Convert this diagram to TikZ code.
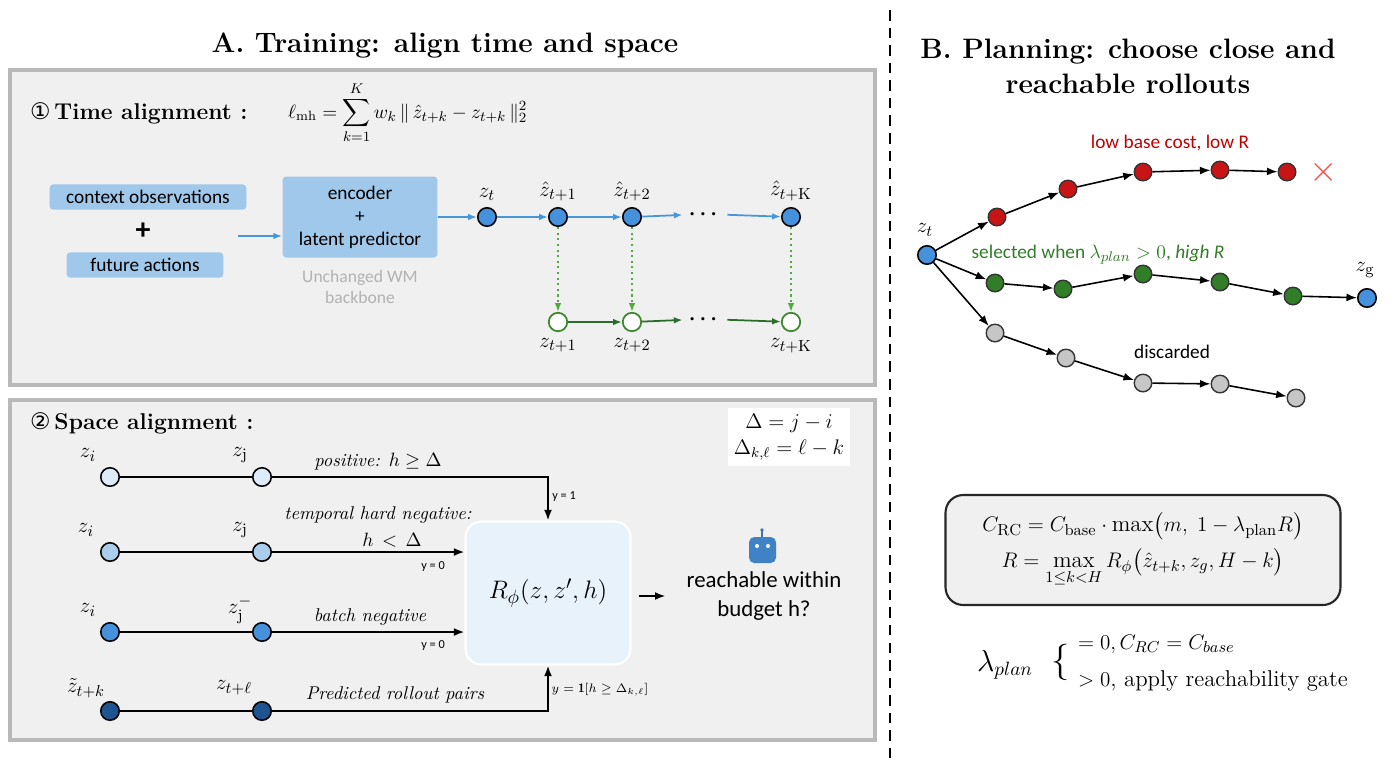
\documentclass[tikz,border=0pt]{standalone}
\usepackage{fontspec}
\usepackage{amsmath,amssymb}
\setsansfont{Carlito}
\newfontfamily\symfnt{DejaVu Sans}
\usetikzlibrary{positioning,arrows.meta}
\definecolor{boxblue}{RGB}{160,200,235}
\definecolor{lineblue}{RGB}{70,150,220}
\definecolor{dkgreen}{RGB}{40,110,40}
\definecolor{ltgreen}{RGB}{80,170,60}
\definecolor{pnlgray}{RGB}{240,240,240}
\definecolor{nodeA}{RGB}{222,236,250}
\definecolor{nodeB}{RGB}{170,205,235}
\definecolor{nodeC}{RGB}{70,145,220}
\definecolor{nodeD}{RGB}{30,85,145}
\definecolor{redn}{RGB}{200,20,20}
\definecolor{greenn}{RGB}{50,125,40}
\tikzset{
  panel/.style={draw=gray!55,line width=2.2pt,fill=pnlgray},
  bbox/.style={fill=boxblue,rounded corners=2pt,font=\sffamily\fontsize{11}{13}\selectfont,align=center},
  dot/.style={circle,draw=black,line width=0.9pt,minimum size=10.5pt,inner sep=0pt},
  gdot/.style={circle,draw=ltgreen!80!black,line width=1pt,fill=white,minimum size=10.5pt,inner sep=0pt},
  pdot/.style={circle,draw=black!80,line width=0.8pt,minimum size=10pt,inner sep=0pt},
  barr/.style={-{Latex[length=5pt]},lineblue,line width=1pt},
  garr/.style={-{Latex[length=5pt]},dkgreen,line width=1pt},
  karr/.style={-{Latex[length=6pt]},line width=1.1pt},
  lbl/.style={font=\fontsize{13}{15}\selectfont},
  ital/.style={font=\itshape\fontsize{10.5}{12}\selectfont},
  small/.style={font=\sffamily\fontsize{7}{8}\selectfont},
  bdots/.style={font=\bfseries\fontsize{12}{12}\selectfont},
}
\begin{document}
\begin{tikzpicture}[x=0.02cm,y=-0.02cm]
\useasboundingbox (0,0) rectangle (1400,772);
% titles
\node[font=\bfseries\fontsize{16}{18}\selectfont] (tA) at (445,45) {A. Training: align time and space};
\node[font=\bfseries\fontsize{16}{20}\selectfont,align=center] (tB) at (1128,66) {B. Planning: choose close and\\reachable rollouts};
\draw[dash pattern=on 6pt off 4pt,line width=1.5pt] (890,10) -- (890,765);
% panels
\draw[panel] (10,70) rectangle (875,385);
\draw[panel] (10,400) rectangle (875,740);
\node[anchor=west,font=\bfseries\fontsize{13}{15}\selectfont] (h1) at (24,113) {{\symfnt\mdseries ①}\,Time alignment :};
\node[anchor=west,font=\fontsize{11}{13}\selectfont] (f1) at (282,113) {$\ell_{\mathrm{mh}}=\displaystyle\sum_{k=1}^{K} w_k\,\|\,\hat z_{t+k}-z_{t+k}\,\|_2^2$};
\node[bbox] (ctx) at (148,197) {\makebox[3.7cm]{context observations}};
\node[bbox] (fut) at (145,265) {\makebox[2.9cm]{future actions}};
\node[font=\sffamily\bfseries\fontsize{17}{17}\selectfont] (plus) at (143,231) {+};
\node[bbox,minimum width=3.1cm,minimum height=1.62cm] (enc) at (360,217) {encoder\\+\\latent predictor};
\node[font=\sffamily\fontsize{10}{12}\selectfont,text=gray!60,align=center] (bb) at (360,287) {Unchanged WM\\backbone};
\coordinate (in) at (238,236);
\draw[barr] (in) -- (enc.west|-in);
\node[dot,fill=nodeC] (z0) at (487,217) {};
\node[dot,fill=nodeC] (z1) at (558,217) {};
\node[dot,fill=nodeC] (z2) at (632,217) {};
\node[bdots] (zd) at (705,214) {$\boldsymbol\cdots$};
\node[dot,fill=nodeC] (zK) at (791,217) {};
\node[gdot] (g1) at (558,322) {};
\node[gdot] (g2) at (632,322) {};
\node[bdots] (gd) at (705,319) {$\boldsymbol\cdots$};
\node[gdot] (gK) at (791,322) {};
\node[lbl,above=0pt of z0] {$z_t$};
\node[lbl,above=0pt of z1] {$\hat z_{t+1}$};
\node[lbl,above=0pt of z2] {$\hat z_{t+2}$};
\node[lbl,above=0pt of zK] {$\hat z_{t+\mathrm{K}}$};
\node[lbl,below=0pt of g1] {$z_{t+1}$};
\node[lbl,below=0pt of g2] {$z_{t+2}$};
\node[lbl,below=0pt of gK] {$z_{t+\mathrm{K}}$};
\draw[barr] (enc) -- (z0);
\draw[barr] (z0) -- (z1);
\draw[barr] (z1) -- (z2);
\draw[barr] (z2) -- (zd);
\draw[barr] (zd) -- (zK);
\draw[garr] (g1) -- (g2);
\draw[garr] (g2) -- (gd);
\draw[garr] (gd) -- (gK);
\foreach \n in {1,2,K}
  \draw[-{Latex[length=5pt]},ltgreen,dotted,line width=1.2pt] (z\n) -- (g\n);
% space alignment
\node[anchor=west,font=\bfseries\fontsize{13}{15}\selectfont] (h2) at (24,423) {{\symfnt\mdseries ②}\,Space alignment :};
\node[fill=white,font=\fontsize{12}{15}\selectfont,align=center,minimum width=2.25cm] (dl) at (789,437) {$\Delta = j-i$\\$\Delta_{k,\ell}=\ell-k$};
\node[fill=nodeA!70,rounded corners=9pt,draw=white,line width=1.2pt,minimum width=3.3cm,minimum height=2.86cm,font=\fontsize{15}{17}\selectfont] (Rp) at (548,593) {$R_\phi(z,z',h)$};
\foreach \r/\y/\c in {1/477/nodeA,2/552/nodeB,3/632/nodeC,4/711/nodeD} {
  \node[dot,fill=\c] (a\r) at (110,\y) {};
  \node[dot,fill=\c] (b\r) at (262,\y) {};
  \draw[line width=1.2pt] (a\r) -- (b\r);
}
\node[lbl] at (88,455) {$z_i$};
\node[lbl] at (240,455) {$z_{\mathrm{j}}$};
\node[lbl] at (86,530) {$z_i$};
\node[lbl] at (240,530) {$z_{\mathrm{j}}$};
\node[lbl] at (88,610) {$z_i$};
\node[lbl] at (240,610) {$z_{\mathrm{j}}^{-}$};
\node[lbl] at (86,688) {$\tilde z_{t+k}$};
\node[lbl] at (234,688) {$z_{t+\ell}$};
\draw[karr] (b1) -| (Rp.north);
\draw[karr] (b2) -- (Rp.west|-b2);
\draw[karr] (b3) -- (Rp.west|-b3);
\draw[karr] (b4) -| (Rp.south);
\node[ital] at (378,462) {positive: \upshape$h\geq\Delta$};
\node[ital] at (378,515) {temporal hard negative:};
\node[ital] at (392,540) {$h\,<\,\Delta$};
\node[ital] at (370,617) {batch negative};
\node[ital] at (395,695) {Predicted rollout pairs};
\node[small] at (564,497) {y = 1};
\node[small] at (433,566) {y = 0};
\node[small] at (433,645) {y = 0};
\node[font=\fontsize{7.5}{8}\selectfont] at (600,690) {$y=\mathbf{1}[h\geq\Delta_{k,\ell}]$};
\node[font=\sffamily\fontsize{13}{16}\selectfont,align=center] (ans) at (764,596) {reachable within\\budget h?};
\draw[karr] (Rp.east|-ans) ++(7,0) coordinate (o1) -- ++(27,0);
% robot icon
\fill[nodeC!90!black,rounded corners=3pt] (749,537) rectangle (776,563);
\fill[white] (757,546) circle (2) (768,546) circle (2);
\draw[nodeC!80!black,line width=0.8pt] (762,537) -- (762,531);
\fill[nodeC!80!black] (762,530) circle (1.8);
% rollouts
\node[dot,fill=nodeC] (p0) at (927,255) {};
\node[lbl] at (925,230) {$z_t$};
\foreach \i/\x/\y in {1/997/217,2/1068/189,3/1143/172,4/1220/170,5/1287/172}
  \node[pdot,fill=redn] (r\i) at (\x,\y) {};
\foreach \i/\x/\y in {1/995/283,2/1063/289,3/1143/274,4/1220/282,5/1293/296}
  \node[pdot,fill=greenn] (s\i) at (\x,\y) {};
\foreach \i/\x/\y in {1/995/333,2/1066/358,3/1143/383,4/1220/384,5/1296/398}
  \node[pdot,fill=gray!45] (d\i) at (\x,\y) {};
\node[dot,fill=nodeC] (zg) at (1367,298) {};
\node[lbl] at (1365,270) {$z_{\mathrm{g}}$};
\foreach \s in {r,s,d} {
  \draw[karr,line width=0.9pt] (p0) -- (\s1);
  \foreach \i/\j in {1/2,2/3,3/4,4/5}
    \draw[karr,line width=0.9pt] (\s\i) -- (\s\j);
}
\draw[karr,line width=0.9pt] (s5) -- (zg);
\node[text=red!75!black,font=\sffamily\fontsize{11}{13}\selectfont] at (1170,143) {low base cost, low R};
\node[text=red!70,font=\fontsize{20}{20}\selectfont] (xx) at (1324,172) {$\times$};
\node[text=greenn,font=\sffamily\fontsize{11}{13}\selectfont] at (1098,255) {selected when $\lambda_{plan}>0$, \itshape high R};
\node[font=\sffamily\fontsize{11}{13}\selectfont] at (1172,352) {discarded};
% formulas
\node[draw=black!85,line width=1.2pt,fill=pnlgray,rounded corners=10pt,minimum width=7.9cm,minimum height=2.2cm,font=\fontsize{13}{15}\selectfont,align=center] (fb) at (1143,550) {$C_{\mathrm{RC}}=C_{\mathrm{base}}\cdot\max\bigl(m,\;1-\lambda_{\mathrm{plan}}R\bigr)$\\[4pt]$R=\displaystyle\max_{1\leq k<H}R_\phi\bigl(\hat z_{t+k},z_g,H-k\bigr)$};
\node[font=\fontsize{16}{18}\selectfont] (lp) at (1005,665) {$\lambda_{plan}$};
\node[font=\fontsize{22}{22}\selectfont] (br) at (1061,662) {$\{$};
\node[anchor=west,font=\fontsize{13}{15}\selectfont] at (1072,644) {$=0,C_{RC}=C_{base}$};
\node[anchor=west,font=\fontsize{13}{15}\selectfont] at (1072,681) {$>0$, apply reachability gate};
\end{tikzpicture}
\end{document}
